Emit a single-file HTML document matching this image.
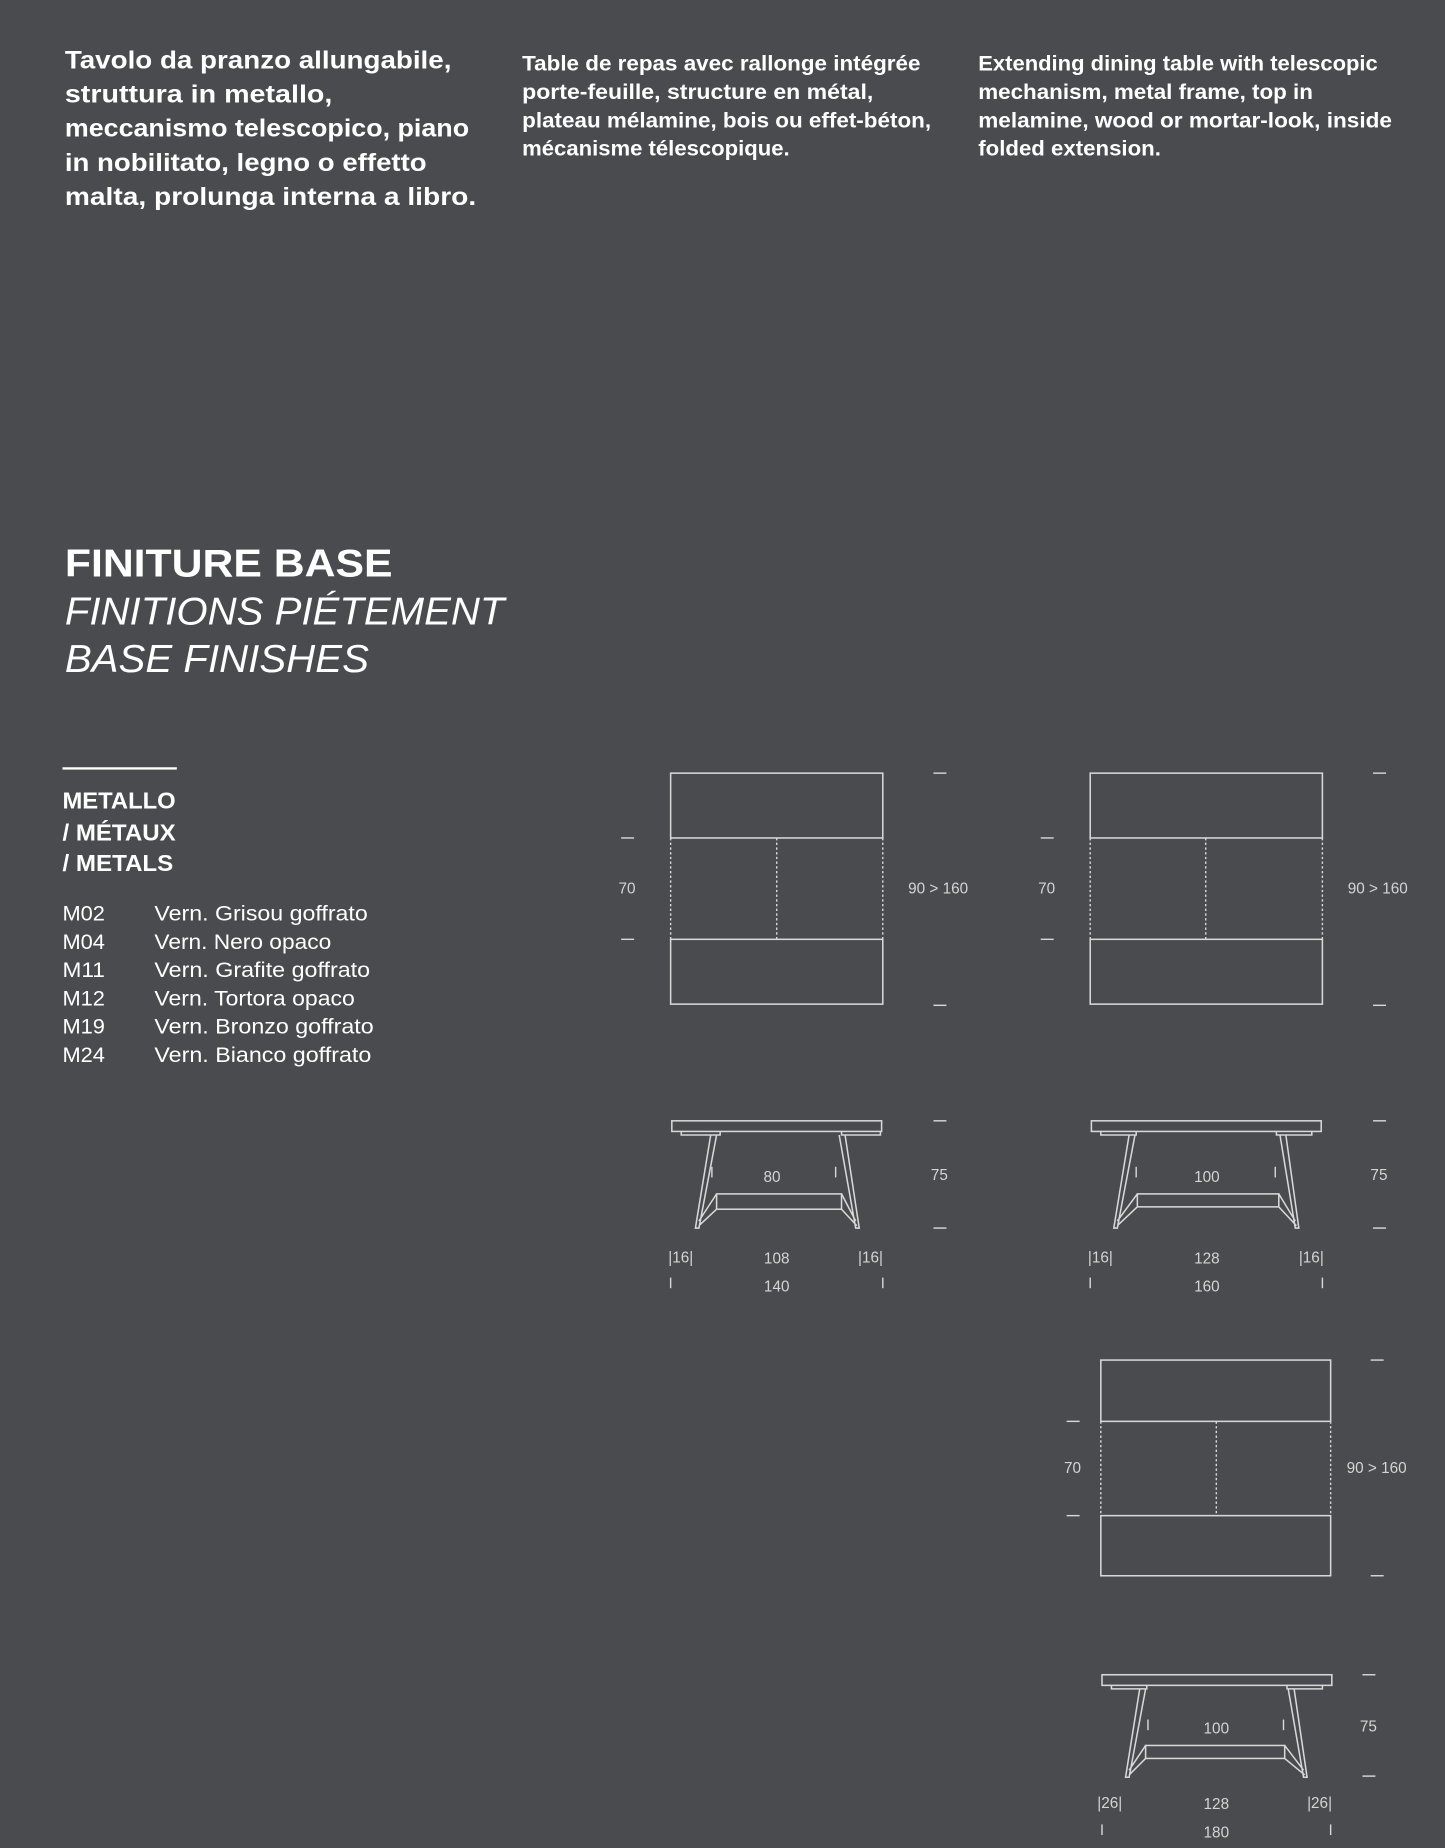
<!DOCTYPE html>
<html><head><meta charset="utf-8"><style>
html,body{margin:0;padding:0;background:#4a4b4f;}
svg{display:block}
text{font-family:"Liberation Sans",sans-serif;fill:#fff}
.b{font-weight:bold}
.d{fill:#d4d4d4;font-size:13px}
.l{stroke:#d8d8d8;stroke-width:1.3;fill:none}
.t{stroke:#d8d8d8;stroke-width:1.2}
.dash{stroke:#d8d8d8;stroke-width:1.2;stroke-dasharray:2 2}
</style></head><body>
<svg width="1445" height="1848" viewBox="0 0 1226 1568" xmlns="http://www.w3.org/2000/svg">
<rect width="1226" height="1568" fill="#4a4b4f"/>
<g class="b" font-size="21">
<text x="55" y="58" textLength="328" lengthAdjust="spacingAndGlyphs">Tavolo da pranzo allungabile,</text>
<text x="55" y="87" textLength="227" lengthAdjust="spacingAndGlyphs">struttura in metallo,</text>
<text x="55" y="116" textLength="343" lengthAdjust="spacingAndGlyphs">meccanismo telescopico, piano</text>
<text x="55" y="145" textLength="307" lengthAdjust="spacingAndGlyphs">in nobilitato, legno o effetto</text>
<text x="55" y="174" textLength="349" lengthAdjust="spacingAndGlyphs">malta, prolunga interna a libro.</text>
</g>
<g class="b" font-size="18">
<text x="443" y="60" textLength="338" lengthAdjust="spacingAndGlyphs">Table de repas avec rallonge intégrée</text>
<text x="443" y="84" textLength="298" lengthAdjust="spacingAndGlyphs">porte-feuille, structure en métal,</text>
<text x="443" y="108" textLength="347" lengthAdjust="spacingAndGlyphs">plateau mélamine, bois ou effet-béton,</text>
<text x="443" y="132" textLength="227" lengthAdjust="spacingAndGlyphs">mécanisme télescopique.</text>
<text x="830" y="60" textLength="339" lengthAdjust="spacingAndGlyphs">Extending dining table with telescopic</text>
<text x="830" y="84" textLength="284" lengthAdjust="spacingAndGlyphs">mechanism, metal frame, top in</text>
<text x="830" y="108" textLength="351" lengthAdjust="spacingAndGlyphs">melamine, wood or mortar-look, inside</text>
<text x="830" y="132" textLength="155" lengthAdjust="spacingAndGlyphs">folded extension.</text>
</g>
<text class="b" x="55" y="489" font-size="33" textLength="278" lengthAdjust="spacingAndGlyphs">FINITURE BASE</text>
<text x="55" y="530" font-size="33" font-style="italic" textLength="373" lengthAdjust="spacingAndGlyphs">FINITIONS PIÉTEMENT</text>
<text x="55" y="570" font-size="33" font-style="italic" textLength="258" lengthAdjust="spacingAndGlyphs">BASE FINISHES</text>
<rect x="53" y="651" width="97" height="2" fill="#fff"/>
<g class="b" font-size="20">
<text x="53" y="686" textLength="96" lengthAdjust="spacingAndGlyphs">METALLO</text>
<text x="53" y="713" textLength="96" lengthAdjust="spacingAndGlyphs">/ MÉTAUX</text>
<text x="53" y="739" textLength="94" lengthAdjust="spacingAndGlyphs">/ METALS</text>
</g>
<g font-size="18" fill="#fff">
<text x="53" y="781" textLength="36" lengthAdjust="spacingAndGlyphs">M02</text><text x="131" y="781" textLength="181" lengthAdjust="spacingAndGlyphs">Vern. Grisou goffrato</text>
<text x="53" y="805" textLength="36" lengthAdjust="spacingAndGlyphs">M04</text><text x="131" y="805" textLength="150" lengthAdjust="spacingAndGlyphs">Vern. Nero opaco</text>
<text x="53" y="829" textLength="36" lengthAdjust="spacingAndGlyphs">M11</text><text x="131" y="829" textLength="183" lengthAdjust="spacingAndGlyphs">Vern. Grafite goffrato</text>
<text x="53" y="853" textLength="36" lengthAdjust="spacingAndGlyphs">M12</text><text x="131" y="853" textLength="170" lengthAdjust="spacingAndGlyphs">Vern. Tortora opaco</text>
<text x="53" y="877" textLength="36" lengthAdjust="spacingAndGlyphs">M19</text><text x="131" y="877" textLength="186" lengthAdjust="spacingAndGlyphs">Vern. Bronzo goffrato</text>
<text x="53" y="901" textLength="36" lengthAdjust="spacingAndGlyphs">M24</text><text x="131" y="901" textLength="184" lengthAdjust="spacingAndGlyphs">Vern. Bianco goffrato</text>
</g>

<!-- Table 1 top -->
<rect class="l" x="569" y="656" width="180" height="55"/>
<rect class="l" x="569" y="797" width="180" height="55"/>
<line class="dash" x1="569" y1="711" x2="569" y2="797"/>
<line class="dash" x1="749" y1="711" x2="749" y2="797"/>
<line class="dash" x1="659" y1="711" x2="659" y2="797"/>
<line class="t" x1="527" y1="711" x2="538" y2="711"/><line class="t" x1="527" y1="797" x2="538" y2="797"/>
<text class="d" x="532" y="758" text-anchor="middle">70</text>
<line class="t" x1="792" y1="656" x2="803" y2="656"/><line class="t" x1="792" y1="853" x2="803" y2="853"/>
<text class="d" x="796" y="758" text-anchor="middle">90 &gt; 160</text>
<!-- Table 1 side -->
<rect class="l" x="570" y="951" width="178" height="9"/>
<path class="l" d="M578 960v3h33v-3M714 960v3h33v-3"/>
<path class="l" d="M603 963L590 1042L593 1042L608 963M608 1013L593 1036M608 1026L593 1040"/>
<path class="l" d="M712 963L726 1042L729 1042L717 963M714 1013L726 1036M714 1026L727 1040"/>
<rect class="l" x="608" y="1013" width="106" height="13"/>
<line class="t" x1="604" y1="990" x2="604" y2="999"/><line class="t" x1="709" y1="990" x2="709" y2="999"/>
<text class="d" x="655" y="1003" text-anchor="middle">80</text>
<line class="t" x1="792" y1="951" x2="803" y2="951"/><line class="t" x1="792" y1="1042" x2="803" y2="1042"/>
<text class="d" x="797" y="1001" text-anchor="middle">75</text>
<text class="d" x="567" y="1071">|16|</text><text class="d" x="728" y="1071">|16|</text>
<text class="d" x="659" y="1072" text-anchor="middle">108</text>
<text class="d" x="659" y="1096" text-anchor="middle">140</text>
<line class="t" x1="569" y1="1084" x2="569" y2="1093"/><line class="t" x1="749" y1="1084" x2="749" y2="1093"/>

<!-- Table 2 top -->
<rect class="l" x="925" y="656" width="197" height="55"/>
<rect class="l" x="925" y="797" width="197" height="55"/>
<line class="dash" x1="925" y1="711" x2="925" y2="797"/>
<line class="dash" x1="1122" y1="711" x2="1122" y2="797"/>
<line class="dash" x1="1023" y1="711" x2="1023" y2="797"/>
<line class="t" x1="883" y1="711" x2="894" y2="711"/><line class="t" x1="883" y1="797" x2="894" y2="797"/>
<text class="d" x="888" y="758" text-anchor="middle">70</text>
<line class="t" x1="1165" y1="656" x2="1176" y2="656"/><line class="t" x1="1165" y1="853" x2="1176" y2="853"/>
<text class="d" x="1169" y="758" text-anchor="middle">90 &gt; 160</text>
<!-- Table 2 side -->
<rect class="l" x="926" y="951" width="195" height="9"/>
<path class="l" d="M934 960v3h30v-3M1083 960v3h30v-3"/>
<path class="l" d="M958 963L945 1042L948 1042L963 963M965 1013L948 1036M965 1024L948 1040"/>
<path class="l" d="M1086 963L1099 1042L1102 1042L1091 963M1085 1013L1099 1036M1085 1024L1100 1040"/>
<rect class="l" x="965" y="1013" width="120" height="11"/>
<line class="t" x1="964" y1="990" x2="964" y2="999"/><line class="t" x1="1082" y1="990" x2="1082" y2="999"/>
<text class="d" x="1024" y="1003" text-anchor="middle">100</text>
<line class="t" x1="1165" y1="951" x2="1176" y2="951"/><line class="t" x1="1165" y1="1042" x2="1176" y2="1042"/>
<text class="d" x="1170" y="1001" text-anchor="middle">75</text>
<text class="d" x="923" y="1071">|16|</text><text class="d" x="1102" y="1071">|16|</text>
<text class="d" x="1024" y="1072" text-anchor="middle">128</text>
<text class="d" x="1024" y="1096" text-anchor="middle">160</text>
<line class="t" x1="925" y1="1084" x2="925" y2="1093"/><line class="t" x1="1122" y1="1084" x2="1122" y2="1093"/>

<!-- Table 3 top -->
<rect class="l" x="934" y="1154" width="195" height="52"/>
<rect class="l" x="934" y="1286" width="195" height="51"/>
<line class="dash" x1="934" y1="1206" x2="934" y2="1286"/>
<line class="dash" x1="1129" y1="1206" x2="1129" y2="1286"/>
<line class="dash" x1="1032" y1="1206" x2="1032" y2="1286"/>
<line class="t" x1="905" y1="1206" x2="916" y2="1206"/><line class="t" x1="905" y1="1286" x2="916" y2="1286"/>
<text class="d" x="910" y="1250" text-anchor="middle">70</text>
<line class="t" x1="1163" y1="1154" x2="1174" y2="1154"/><line class="t" x1="1163" y1="1337" x2="1174" y2="1337"/>
<text class="d" x="1168" y="1250" text-anchor="middle">90 &gt; 160</text>
<!-- Table 3 side -->
<rect class="l" x="935" y="1421" width="195" height="9"/>
<path class="l" d="M943 1430v3h30v-3M1092 1430v3h30v-3"/>
<path class="l" d="M967 1433L955 1508L958 1508L972 1433M972 1481L958 1502M972 1492L958 1506"/>
<path class="l" d="M1093 1433L1106 1508L1109 1508L1098 1433M1090 1481L1106 1502M1090 1492L1107 1506"/>
<rect class="l" x="972" y="1481" width="118" height="11"/>
<line class="t" x1="974" y1="1459" x2="974" y2="1468"/><line class="t" x1="1089" y1="1459" x2="1089" y2="1468"/>
<text class="d" x="1032" y="1471" text-anchor="middle">100</text>
<line class="t" x1="1156" y1="1421" x2="1167" y2="1421"/><line class="t" x1="1156" y1="1507" x2="1167" y2="1507"/>
<text class="d" x="1161" y="1469" text-anchor="middle">75</text>
<text class="d" x="931" y="1534">|26|</text><text class="d" x="1109" y="1534">|26|</text>
<text class="d" x="1032" y="1535" text-anchor="middle">128</text>
<text class="d" x="1032" y="1559" text-anchor="middle">180</text>
<line class="t" x1="935" y1="1548" x2="935" y2="1557"/><line class="t" x1="1129" y1="1548" x2="1129" y2="1557"/>
</svg>
</body></html>
